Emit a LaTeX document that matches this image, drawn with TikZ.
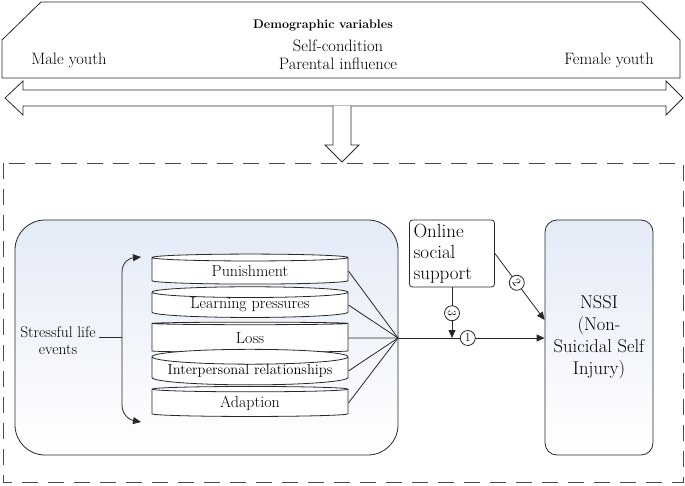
\documentclass[tikz,border=0pt]{standalone}
\usepackage{fontspec}
\usepackage{tikz}
\usetikzlibrary{arrows.meta,shapes.geometric}
\definecolor{paleblue}{RGB}{228,235,247}
\definecolor{inkgray}{RGB}{40,40,40}

\tikzset{
  tip/.style={-{Triangle[length=8pt,width=7pt]}},
  disk/.style={cylinder, shape border rotate=90, draw=inkgray, fill=white, aspect=0.09,
    minimum width=196pt, minimum height=30pt, inner sep=0pt,
    font=\fontsize{16}{18}\selectfont},
  numcirc/.style={circle, draw=inkgray, fill=white, inner sep=0.5pt, minimum size=15pt,
    font=\fontsize{12}{12}\selectfont},
  frame/.style={draw=black!70, dash pattern=on 16pt off 10pt}
}

\begin{document}
\begin{tikzpicture}[x=1pt,y=-1pt,line width=0.8pt,draw=inkgray,
  every node/.style={font=\fontsize{16.5}{18}\selectfont}]
\useasboundingbox (0,0) rectangle (685,486);

% Demographic banner
\draw[inkgray] (2,40) -- (41,2) -- (642,2) -- (680,40) -- (680,78) -- (2,78) -- cycle;
\node[font=\bfseries\fontsize{12.5}{15}\selectfont] (demo) at (323,25) {Demographic variables};
\node (self) at (338,46) {Self-condition};
\node (parent) at (338,64) {Parental influence};
\node (male) at (69,60) {Male youth};
\node (female) at (609,60) {Female youth};

% double arrow and down arrow
\draw[inkgray, fill=white] (5,98) -- (23,81) -- (23,90) -- (666,90) -- (666,81) -- (683,98)
  -- (666,115) -- (666,106) -- (23,106) -- (23,115) -- cycle;
\draw[inkgray, fill=white] (333,106) -- (333,145) -- (325,145) -- (342,162) -- (359,145)
  -- (351,145) -- (351,106);

% dashed frame
\draw[frame] (3,163) rectangle (683,482);

% boxes
\node[draw=inkgray, rounded corners=30pt, top color=paleblue, bottom color=white,
  minimum width=383pt, minimum height=235pt] (events) at (206.5,337.5) {};
\node[draw=inkgray, rounded corners=12pt, top color=paleblue, bottom color=white,
  minimum width=108pt, minimum height=235pt, align=center,
  font=\fontsize{18.5}{22}\selectfont] (nssi) at (599,337.5) {NSSI\\(Non-\\Suicidal Self\\Injury)};
\node[draw=inkgray, rounded corners=3pt, fill=white, text width=77pt, align=left,
  minimum height=67pt, inner sep=4pt, font=\fontsize{19}{21}\selectfont] (online) at (452,253.5) {Online\\social\\support};

% stressful life events
\node[disk] (pun) at (250,271) {Punishment};
\node[disk] (learn) at (250,305) {Learning pressures};
\node[disk] (loss) at (250,338) {Loss};
\node[disk, font=\fontsize{14.5}{16}\selectfont] (inter) at (250,371) {Interpersonal relationships};
\node[disk] (adapt) at (250,403) {Adaption};

\node[align=center, font=\fontsize{15.5}{17}\selectfont] (stress) at (58,341) {Stressful life\\events};
\coordinate (brace) at (122,337);
\draw (stress.east |- brace) -- (brace);
\draw[tip] (brace) -- (122,272) .. controls (122,262) and (130,258) .. (141,257);
\draw[tip] (brace) -- (122,405) .. controls (122,415) and (130,420) .. (141,422);

% paths to NSSI
\coordinate (hub) at (398,338);
\foreach \d in {pun,learn,loss,inter,adapt}
  \draw (\d.east) -- (hub);
\draw[tip] (hub) -- node[numcirc, pos=0.476] (one) {1} (nssi.west |- hub);
\draw[tip] (online.south) -- node[numcirc, pos=0.51, rotate=-90] (three) {3} (online.south |- hub);
\draw[tip] (online.east) -- node[numcirc, pos=0.44, rotate=-53] (two) {2} ([yshift=17.5pt]nssi.west);
\end{tikzpicture}
\end{document}
